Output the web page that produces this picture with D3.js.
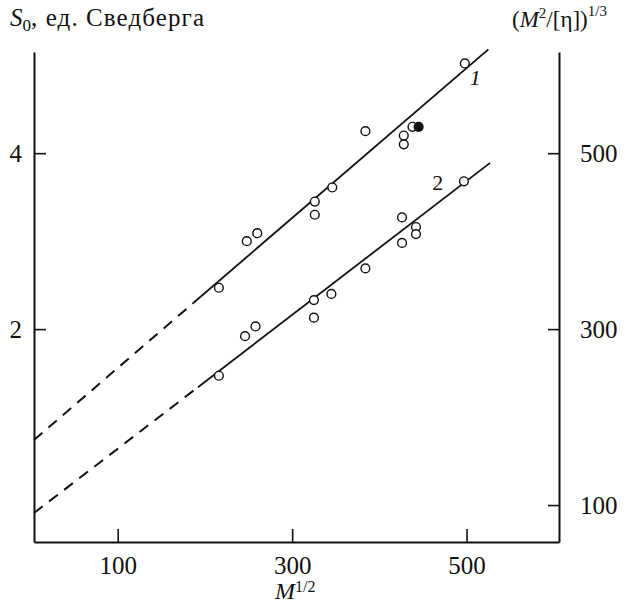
<!DOCTYPE html>
<html>
<head>
<meta charset="utf-8">
<script src="https://cdn.jsdelivr.net/npm/d3@7"></script>
<style>
  body { margin: 0; background: #fff; }
  svg { display: block; font-family: "Liberation Serif", "DejaVu Serif", serif; }
</style>
</head>
<body>
<div id="chart"></div>
<script>
// series 1 (upper), M^1/2 vs S0
const x1 = [216, 248, 260, 326, 326, 346, 384, 428, 428, 438, 498];
const s1 = [2.47, 3.00, 3.09, 3.45, 3.30, 3.61, 4.25, 4.20, 4.10, 4.30, 5.02];
// filled point of series 1
const xFilled = [445];
const sFilled = [4.30];
// series 2 (lower)
const x2 = [216, 246, 258, 325, 325, 345, 384, 426, 426, 442, 442, 497];
const s2 = [1.47, 1.92, 2.03, 2.33, 2.13, 2.40, 2.69, 3.27, 2.98, 3.16, 3.08, 3.68];

// fitted lines: [axis start, solid start, solid end]
const fit1X = [4, 187, 525];
const fit1S = [0.74, 2.30, 5.18];
const fit2X = [4, 192, 527];
const fit2S = [-0.09, 1.34, 3.89];

const xTicks = [100, 300, 500];
const leftTicks = [2, 4];
const rightTicks = [100, 300, 500];

const W = 633, H = 605;
const svg = d3.select("#chart").append("svg")
  .attr("width", W)
  .attr("height", H);

const x = d3.scaleLinear().domain([4, 606]).range([34, 559]);
const y = d3.scaleLinear().domain([-0.42, 5.15]).range([542, 52]);
// right axis is S0 * 100 + 100
const yR = d3.scaleLinear().domain(y.domain().map(d => d * 100 + 100)).range(y.range());

const tickFont = "25px";
const fmt = d3.format("d");

// axes
const gx = svg.append("g")
  .attr("transform", `translate(0,${y.range()[0]})`)
  .call(d3.axisBottom(x).tickValues(xTicks).tickFormat(fmt).tickSizeInner(-13).tickSizeOuter(0).tickPadding(14));

const gl = svg.append("g")
  .attr("transform", `translate(${x.range()[0]},0)`)
  .call(d3.axisLeft(y).tickValues(leftTicks).tickFormat(fmt).tickSizeInner(-12).tickSizeOuter(0).tickPadding(12));

const gr = svg.append("g")
  .attr("transform", `translate(${x.range()[1]},0)`)
  .call(d3.axisRight(yR).tickValues(rightTicks).tickFormat(fmt).tickSizeInner(-11).tickSizeOuter(0).tickPadding(21));

[gx, gl, gr].forEach(g => {
  g.select(".domain").attr("stroke", "#111").attr("stroke-width", 2);
  g.selectAll(".tick line").attr("stroke", "#111").attr("stroke-width", 1.6);
  g.selectAll(".tick text")
    .attr("fill", "#111")
    .style("font-family", "'Liberation Serif', serif")
    .style("font-size", tickFont);
});

// fit lines
function drawFit(xs, ss) {
  svg.append("line")
    .attr("x1", x(xs[0])).attr("y1", y(ss[0]))
    .attr("x2", x(xs[1])).attr("y2", y(ss[1]))
    .attr("stroke", "#111")
    .attr("stroke-width", 2)
    .attr("stroke-dasharray", "11,8");
  svg.append("line")
    .attr("x1", x(xs[1])).attr("y1", y(ss[1]))
    .attr("x2", x(xs[2])).attr("y2", y(ss[2]))
    .attr("stroke", "#111")
    .attr("stroke-width", 1.8);
}
drawFit(fit1X, fit1S);
drawFit(fit2X, fit2S);

// points
function drawPoints(xs, ss, filled) {
  svg.append("g").selectAll("circle")
    .data(xs.map((d, i) => ({ x: d, s: ss[i] })))
    .enter().append("circle")
    .attr("cx", d => x(d.x))
    .attr("cy", d => y(d.s))
    .attr("r", 4.4)
    .attr("fill", filled ? "#111" : "#fff")
    .attr("stroke", "#111")
    .attr("stroke-width", 1.4);
}
drawPoints(x1, s1, false);
drawPoints(xFilled, sFilled, true);
drawPoints(x2, s2, false);

// curve labels
svg.append("text")
  .attr("x", x(510)).attr("y", y(4.77))
  .attr("text-anchor", "middle")
  .attr("fill", "#111")
  .style("font-style", "italic")
  .style("font-size", "22px")
  .text("1");
svg.append("text")
  .attr("x", x(467)).attr("y", y(3.58))
  .attr("text-anchor", "middle")
  .attr("fill", "#111")
  .style("font-size", "22px")
  .text("2");

// left title
const tl = svg.append("text")
  .attr("x", 10).attr("y", 26)
  .style("font-size", "25px")
  .attr("fill", "#111");
tl.append("tspan").style("font-style", "italic").text("S");
tl.append("tspan").attr("dy", 5).style("font-size", "17px").text("0");
tl.append("tspan").attr("dy", -5).style("letter-spacing", "1.1px").text(", ед. Сведберга");

// right title
const tr = svg.append("text")
  .attr("x", 512).attr("y", 27)
  .style("font-size", "23px")
  .attr("fill", "#111");
tr.append("tspan").text("(");
tr.append("tspan").style("font-style", "italic").text("M");
tr.append("tspan").attr("dy", -9).style("font-size", "15px").text("2");
tr.append("tspan").attr("dy", 9).text("/[η])");
tr.append("tspan").attr("dy", -11).style("font-size", "15px").text("1/3");

// x title
const tx = svg.append("text")
  .attr("x", 275).attr("y", 599)
  .style("font-size", "24px")
  .attr("fill", "#111");
tx.append("tspan").style("font-style", "italic").text("M");
tx.append("tspan").attr("dy", -7).style("font-size", "16px").text("1/2");
</script>
</body>
</html>
